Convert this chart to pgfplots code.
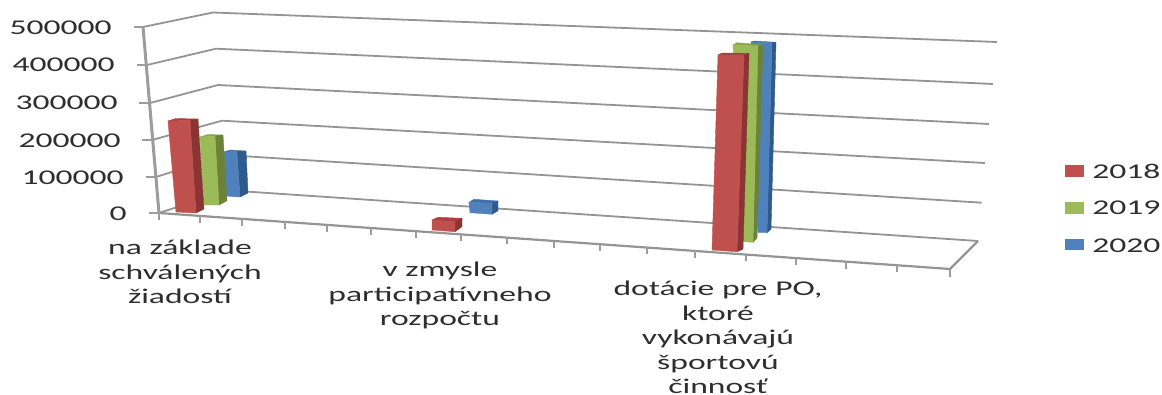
\documentclass[border=0pt]{standalone}
\usepackage{pgfplots}
\pgfplotsset{compat=1.18}
\usepackage{fontspec}
\setmainfont{Carlito}
\definecolor{txt}{HTML}{2E2E2E}
\definecolor{gridc}{HTML}{949494}
\definecolor{axisc}{HTML}{9C9C9C}
\definecolor{redF}{HTML}{C0504D}
\definecolor{redS}{HTML}{8A3533}
\definecolor{redT}{HTML}{A8403E}
\definecolor{greenF}{HTML}{9BBB59}
\definecolor{greenS}{HTML}{6B8238}
\definecolor{greenT}{HTML}{86A548}
\definecolor{blueF}{HTML}{4F81BD}
\definecolor{blueS}{HTML}{2E5A8C}
\definecolor{blueT}{HTML}{3E6EA6}
% One face of a column: colour, corner points
\newcommand{\face}[2]{\addplot[fill=#1,draw=#1,line width=.4pt,forget plot] coordinates {#2} -- cycle;}
% One rule of the chart frame: width, colour, points
\newcommand{\rul}[3]{\addplot[draw=#2,line width=#1pt,forget plot] coordinates {#3};}
% Horizontally widened text
\newcommand{\lab}[3]{\node[anchor=#1,inner sep=0pt,text=txt,xscale=1.6,align=center,font=\fontsize{21}{24.5}\selectfont] at (axis cs:#2) {#3};}
\begin{document}
\begin{tikzpicture}[x=1pt,y=1pt]
\useasboundingbox (0,0) rectangle (1162pt,394pt);
\begin{axis}[
  at={(0,0)},anchor=south west,
  scale only axis,width=1162pt,height=394pt,
  xmin=0,xmax=1162,ymin=0,ymax=394,y dir=reverse,
  axis lines=none,clip=false,no markers]
% value gridlines across side and back walls
\rul{1.8}{gridc}{(143,27) (213,12.5) (997,42)}
\rul{1.8}{gridc}{(147,65) (216,48.7) (993,84)}
\rul{1.8}{gridc}{(150,103) (218,85) (989,124)}
\rul{1.8}{gridc}{(152,140) (222,120.7) (985,163)}
\rul{1.8}{gridc}{(156,177) (225,155) (981.7,202.7)}
\rul{1.8}{gridc}{(159,213) (228,190.3) (978,241)}
% floor edges
\rul{2.2}{gridc}{(978,241) (950,269)}
\rul{2.2}{gridc}{(159,213) (950,269)}
% value axis with tick stubs
\rul{3}{axisc}{(143,27) (159,213)}
\rul{1.8}{axisc}{(134,27) (143,27)}
\rul{1.8}{axisc}{(137,65) (147,65)}
\rul{1.8}{axisc}{(139,103) (150,103)}
\rul{1.8}{axisc}{(142,140) (152,140)}
\rul{1.8}{axisc}{(146,177) (156,177)}
\rul{1.8}{axisc}{(149,213) (159,213)}
% category axis ticks
\rul{2.2}{axisc}{(159,213) (159,220)}
\rul{2.2}{axisc}{(200,216) (200,223)}
\rul{2.2}{axisc}{(242,219) (242,226)}
\rul{2.2}{axisc}{(285,222) (285,229)}
\rul{2.2}{axisc}{(327,225) (327,232)}
\rul{2.2}{axisc}{(371,228) (371,235)}
\rul{2.2}{axisc}{(416,231) (416,238)}
\rul{2.2}{axisc}{(461,234) (461,241)}
\rul{2.2}{axisc}{(507,237) (507,244)}
\rul{2.2}{axisc}{(554,241) (554,248)}
\rul{2.2}{axisc}{(600,244) (600,251)}
\rul{2.2}{axisc}{(647,247) (647,254)}
\rul{2.2}{axisc}{(695,251) (695,258)}
\rul{2.2}{axisc}{(746,254) (746,261)}
\rul{2.2}{axisc}{(796,258) (796,265)}
\rul{2.2}{axisc}{(846,262) (846,269)}
\rul{2.2}{axisc}{(897,265) (897,272)}
\rul{2.2}{axisc}{(950,269) (950,277)}
% na základe schválených žiadostí: 2020, 2019, 2018
\face{blueT}{(224,152) (237,151.5) (246,151) (230,150)}
\face{blueS}{(237,151.5) (246,151) (248,193) (240,197)}
\face{blueF}{(224,152) (237,151.5) (240,197) (232,196.5) (226,196)}
\face{greenT}{(200,137) (215,136) (223,135) (208,134.5)}
\face{greenS}{(215,136) (223,135) (227,200.7) (219,205)}
\face{greenF}{(200,137) (215,136) (219,205) (204,205)}
\face{redT}{(168,121) (190,120.5) (198,119) (176,118.5)}
\face{redS}{(190,120.5) (198,119) (204,209) (196,213)}
\face{redF}{(168,121) (190,120.5) (196,213) (176,212)}
% v zmysle participatívneho rozpočtu: 2020, 2018
\face{blueT}{(469,202.3) (492,203.3) (498,201) (474,199.3)}
\face{blueS}{(492,203.3) (498,201) (498,210.7) (492,214.3)}
\face{blueF}{(469,202.3) (492,203.3) (492,214.3) (470,212.7)}
\face{redT}{(432,220) (455,221.7) (462,218.3) (438,217.3)}
\face{redS}{(455,221.7) (462,218.3) (462,226.7) (455,231.7)}
\face{redF}{(432,220) (455,221.7) (455,231.7) (432,230)}
% dotácie pre PO: 2020, 2019, 2018
\face{blueT}{(751,42) (772,42.7) (776,42.3) (755,41)}
\face{blueS}{(772,42.7) (776,42.3) (771,229.3) (767,232.7)}
\face{blueF}{(751,42) (772,42.7) (767,232.7) (758,232.7)}
\face{greenT}{(733,45) (758,46) (763,45) (737,42.7)}
\face{greenS}{(758,46) (763,45) (757,238) (753,242.3)}
\face{greenF}{(733,45) (758,46) (753,242.3) (743,241.7)}
\face{redT}{(718,55) (744,55) (749,53.3) (722,53)}
\face{redS}{(744,55) (749,53.3) (743,249.3) (737,251.7)}
\face{redF}{(718,55) (744,55) (737,251.7) (712,250)}
% legend keys
\face{redF}{(1065,165) (1083,165) (1083,176) (1065,176)}
\face{greenF}{(1065,202) (1083,202) (1083,213) (1065,213)}
\face{blueF}{(1065,239) (1083,239) (1083,249) (1065,249)}
% value axis labels
\lab{east}{112,28}{500000}
\lab{east}{115,65}{400000}
\lab{east}{118,103}{300000}
\lab{east}{121,141}{200000}
\lab{east}{124,178}{100000}
\lab{east}{127,214}{0}
% category labels
\lab{north}{180,240}{na základe\\schválených\\žiadostí}
\lab{north}{440,262}{v zmysle\\participatívneho\\rozpočtu}
\lab{north}{718,281}{dotácie pre PO,\\ktoré\\vykonávajú\\športovú\\činnosť}
% legend labels
\lab{west}{1092,171}{2018}
\lab{west}{1092,208}{2019}
\lab{west}{1092,246}{2020}
\end{axis}
\end{tikzpicture}
\end{document}
